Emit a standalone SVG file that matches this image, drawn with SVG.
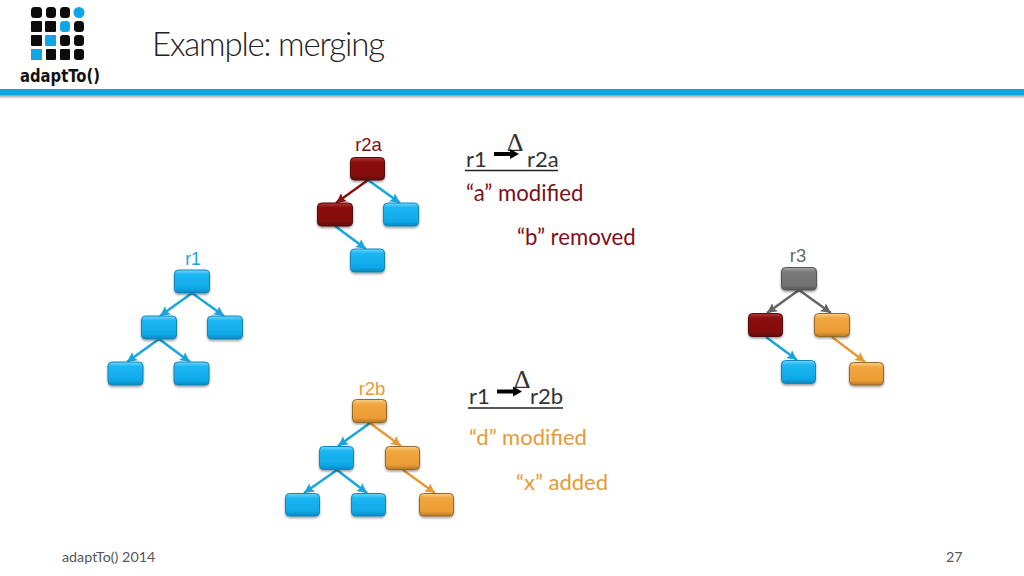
<svg xmlns="http://www.w3.org/2000/svg" width="1024" height="576" viewBox="0 0 1024 576">
<style>
.t{font-family:"Lato","Open Sans",sans-serif;font-weight:400}
.h{font-family:"Lato","Open Sans",sans-serif;font-weight:300}
.s{font-family:"Liberation Sans",Arial,sans-serif}
.n rect{stroke-width:1}
.b{fill:url(#gb);stroke:#1786b8}
.r{fill:url(#gr);stroke:#540808}
.o{fill:url(#go);stroke:#96682a}
.g{fill:url(#gg);stroke:#555}
.e{fill:none;stroke-width:2.500}
.eb{stroke:#17a5de}.er{stroke:#8a1010}.eo{stroke:#e59a35}.eg{stroke:#666}
.k{fill:#0c0c0c}.kb{fill:#10a5e5}
</style>
<defs>
<linearGradient id="gb" x1="0" y1="0" x2="0" y2="1"><stop offset="0" stop-color="#6fd6fa"/><stop offset=".2" stop-color="#1cb6f2"/><stop offset=".8" stop-color="#0fa8e8"/><stop offset="1" stop-color="#0a86bd"/></linearGradient>
<linearGradient id="gr" x1="0" y1="0" x2="0" y2="1"><stop offset="0" stop-color="#b23a3a"/><stop offset=".2" stop-color="#8b0f0f"/><stop offset=".8" stop-color="#840c0c"/><stop offset="1" stop-color="#5c0707"/></linearGradient>
<linearGradient id="go" x1="0" y1="0" x2="0" y2="1"><stop offset="0" stop-color="#f9d08a"/><stop offset=".2" stop-color="#f1a640"/><stop offset=".8" stop-color="#eb9c33"/><stop offset="1" stop-color="#b5772a"/></linearGradient>
<linearGradient id="gg" x1="0" y1="0" x2="0" y2="1"><stop offset="0" stop-color="#a8a8a8"/><stop offset=".2" stop-color="#7a7a7a"/><stop offset=".8" stop-color="#727272"/><stop offset="1" stop-color="#555"/></linearGradient>
<linearGradient id="sh" x1="0" y1="0" x2="0" y2="1"><stop offset="0" stop-color="#999"/><stop offset="1" stop-color="#fff"/></linearGradient>
<filter id="ds" x="-20%" y="-20%" width="140%" height="150%"><feDropShadow dx="0" dy="1.500" stdDeviation="1.200" flood-color="#000" flood-opacity=".4"/></filter>
<marker id="mb" markerUnits="userSpaceOnUse" markerWidth="12" markerHeight="12" refX="10" refY="5" orient="auto"><path d="M0 0L10 5L0 10L2 5Z" fill="#17a5de"/></marker>
<marker id="mr" markerUnits="userSpaceOnUse" markerWidth="12" markerHeight="12" refX="10" refY="5" orient="auto"><path d="M0 0L10 5L0 10L2 5Z" fill="#8a1010"/></marker>
<marker id="mo" markerUnits="userSpaceOnUse" markerWidth="12" markerHeight="12" refX="10" refY="5" orient="auto"><path d="M0 0L10 5L0 10L2 5Z" fill="#e59a35"/></marker>
<marker id="mg" markerUnits="userSpaceOnUse" markerWidth="12" markerHeight="12" refX="10" refY="5" orient="auto"><path d="M0 0L10 5L0 10L2 5Z" fill="#666"/></marker>
</defs>
<rect width="1024" height="576" fill="#fff"/>

<g id="logo">
<rect class="k" x="31" y="7" width="11" height="11" rx="3.500"/><rect class="k" x="46" y="7" width="10" height="11" rx="3.500"/><rect class="k" x="60" y="7" width="10" height="11" rx="3.500"/><circle class="kb" cx="79" cy="12.500" r="5.500"/>
<rect class="k" x="31" y="21" width="11" height="11" rx="1"/><rect class="k" x="45" y="21" width="11" height="11" rx="1"/><rect class="kb" x="60" y="21" width="10" height="11" rx="3.500"/><rect class="k" x="74" y="21" width="10" height="11" rx="3.500"/>
<rect class="k" x="31" y="35" width="11" height="11" rx="1"/><rect class="kb" x="45" y="35" width="11" height="11" rx="1"/><rect class="k" x="60" y="35" width="10" height="11" rx="3"/><rect class="k" x="74" y="35" width="10" height="11" rx="3.500"/>
<rect class="kb" x="31" y="49" width="11" height="11"/><rect class="k" x="46" y="49" width="10" height="11" rx="1"/><rect class="k" x="60" y="49" width="10" height="11" rx="1"/><rect class="k" x="74" y="49" width="10" height="11" rx="3"/>
<text x="20" y="82" font-family="DejaVu Sans,sans-serif" font-size="18" font-weight="700" fill="#111" textLength="80" lengthAdjust="spacingAndGlyphs">adaptTo()</text>
</g>
<g id="header">
<rect x="0" y="95" width="1024" height="4" fill="url(#sh)"/>
<rect x="0" y="89" width="1024" height="6" fill="#0ea5e3"/>
<text class="h" x="152" y="56" font-size="33" fill="#222" textLength="233">Example: merging</text>
</g>

<g id="connectors">
<path class="e eb" marker-end="url(#mb)" d="M192 293L160 316"/><path class="e eb" marker-end="url(#mb)" d="M192 293L224 316"/><path class="e eb" marker-end="url(#mb)" d="M159 339L127 362"/><path class="e eb" marker-end="url(#mb)" d="M159 339L190 362"/>
<path class="e er" marker-end="url(#mr)" d="M368 180L336 203"/><path class="e eb" marker-end="url(#mb)" d="M368 180L400 203"/><path class="e eb" marker-end="url(#mb)" d="M335 226L366 249"/>
<path class="e eb" marker-end="url(#mb)" d="M370 423L338 446"/><path class="e eo" marker-end="url(#mo)" d="M370 423L401 446"/><path class="e eb" marker-end="url(#mb)" d="M337 470L304 493"/><path class="e eb" marker-end="url(#mb)" d="M337 470L367 493"/><path class="e eo" marker-end="url(#mo)" d="M403 470L435 493"/>
<path class="e eg" marker-end="url(#mg)" d="M799 290L767 313"/><path class="e eg" marker-end="url(#mg)" d="M799 290L831 313"/><path class="e eb" marker-end="url(#mb)" d="M766 337L797 360"/><path class="e eo" marker-end="url(#mo)" d="M832 337L865 362"/>
</g>

<g id="r1" class="n" filter="url(#ds)">
<rect class="b" x="174.500" y="270" width="35" height="23" rx="4"/><rect class="b" x="141.500" y="316" width="35" height="23" rx="4"/><rect class="b" x="207.500" y="316" width="35" height="23" rx="4"/><rect class="b" x="108" y="362" width="35" height="23" rx="4"/><rect class="b" x="174" y="362" width="35" height="23" rx="4"/>
</g>
<g id="r2a" class="n" filter="url(#ds)">
<rect class="r" x="350.500" y="157.500" width="34" height="22.500" rx="4"/><rect class="r" x="317.500" y="203" width="35" height="23" rx="4"/><rect class="b" x="383.500" y="203" width="35" height="23" rx="4"/><rect class="b" x="350.500" y="249" width="34" height="23" rx="4"/>
</g>
<g id="r2b" class="n" filter="url(#ds)">
<rect class="o" x="352.500" y="399.500" width="34" height="23" rx="4"/><rect class="b" x="319.500" y="446.500" width="34" height="23" rx="4"/><rect class="o" x="385.500" y="446.500" width="34" height="23" rx="4"/><rect class="b" x="285.500" y="493.500" width="34" height="22.500" rx="4"/><rect class="b" x="351.500" y="493.500" width="34" height="22.500" rx="4"/><rect class="o" x="419.500" y="493.500" width="34" height="22.500" rx="4"/>
</g>
<g id="r3" class="n" filter="url(#ds)">
<rect class="g" x="781.500" y="267.500" width="35" height="22.500" rx="4"/><rect class="r" x="748.500" y="313.500" width="34" height="23" rx="4"/><rect class="o" x="814.500" y="313.500" width="35" height="23" rx="4"/><rect class="b" x="781.500" y="360.500" width="34" height="23" rx="4"/><rect class="o" x="849.500" y="362.500" width="34" height="22.500" rx="4"/>
</g>

<g id="labels">
<text class="s" x="193" y="265" font-size="17.500" fill="#17a5de" text-anchor="middle">r1</text>
<text class="s" x="368.500" y="150.500" font-size="18.500" fill="#7d0f12" text-anchor="middle">r2a</text>
<text class="s" x="372" y="395" font-size="18.500" fill="#e59a35" text-anchor="middle">r2b</text>
<text class="s" x="798" y="262" font-size="18.500" fill="#6a6a6a" text-anchor="middle">r3</text>
</g>

<g id="eq-a">
<text class="t" x="466" y="167" font-size="22" fill="#333">r1</text>
<text class="t" x="527" y="167" font-size="22" fill="#333">r2a</text>
<text x="515" y="151" font-size="26" font-family="Liberation Serif,serif" fill="#333" text-anchor="middle">Δ</text>
<path d="M494 154H511" stroke="#000" stroke-width="4" fill="none"/><path d="M510 149L519 154L510 159Z" fill="#000"/>
<path d="M465 170.500H558" stroke="#222" stroke-width="1.500"/>
<text class="t" x="466" y="201" font-size="22.200" fill="#7d1018">“a” modified</text>
<text class="t" x="517" y="245" font-size="22.200" fill="#7d1018">“b” removed</text>
</g>
<g id="eq-b">
<text class="t" x="469" y="404" font-size="22" fill="#333">r1</text>
<text class="t" x="530" y="404" font-size="22" fill="#333">r2b</text>
<text x="522" y="388" font-size="26" font-family="Liberation Serif,serif" fill="#333" text-anchor="middle">Δ</text>
<path d="M497 391.500H514" stroke="#000" stroke-width="4" fill="none"/><path d="M513 386.500L522 391.500L513 396.500Z" fill="#000"/>
<path d="M468 408H563" stroke="#222" stroke-width="1.500"/>
<text class="t" x="469" y="445" font-size="22" fill="#e59a35">“d” modified</text>
<text class="t" x="516" y="490" font-size="22" fill="#e59a35">“x” added</text>
</g>
<g id="footer">
<text class="t" x="62" y="562" font-size="14.300" fill="#555">adaptTo() 2014</text>
<text class="t" x="946" y="562" font-size="14.300" fill="#555">27</text>
</g>
</svg>
